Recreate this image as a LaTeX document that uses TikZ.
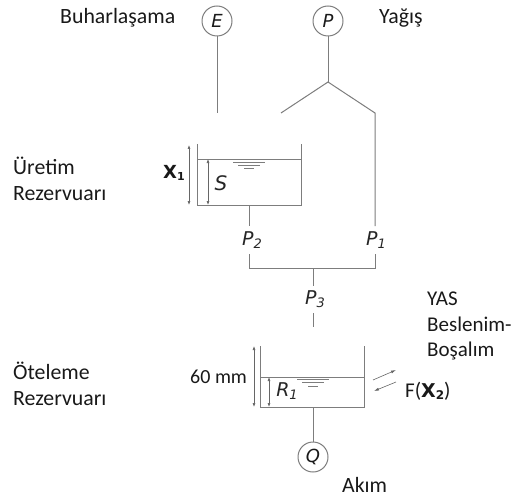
\documentclass[tikz,border=0pt]{standalone}
\usepackage{fontspec}
\setmainfont{Carlito}
\newfontfamily\symfont{DejaVu Sans}
\usetikzlibrary{arrows.meta}
\definecolor{ln}{RGB}{125,125,125}
\tikzset{
 txt/.style={font=\fontsize{21.8}{25.5}\selectfont,align=left,anchor=west,inner sep=0pt,text=black!90},
 sym/.style={font=\symfont\itshape\fontsize{19}{19}\selectfont,inner sep=0pt,text=black!85},
 circ/.style={circle,draw=ln,line width=1pt,minimum size=30pt,inner sep=0pt,font=\symfont\itshape\fontsize{18}{18}\selectfont,text=black!90},
 wire/.style={draw=ln,line width=1pt},
 dim/.style={draw=black!60,line width=.6pt,{Latex[length=4pt,width=3pt]}-{Latex[length=4pt,width=3pt]}},
 flow/.style={draw=black!60,line width=.6pt,-{Latex[length=5pt,width=3pt]}}
}
\newcommand{\subsym}[1]{\raisebox{-2.5pt}{\fontsize{13}{13}\selectfont #1}}
\begin{document}
\begin{tikzpicture}[x=1pt,y=-1pt]
\useasboundingbox (0,0) rectangle (513,497);
\node[circ] (E) at (217,21) {E};
\node[circ] (P) at (328,21) {P};
\node[circ] (Q) at (313,457) {Q};
\node[txt] (t1) at (60,18) {Buharlaşama};
\node[txt] (t2) at (379,18) {Yağış};
\node[txt] (t3) at (13,179) {Üretim\\Rezervuarı};
\node[txt] (t4) at (13,384) {Öteleme\\Rezervuarı};
\node[txt,font=\fontsize{21}{25.5}\selectfont] (t5) at (427,326) {YAS\\Beslenim-\\Boşalım};
\node[txt] (t6) at (342,485) {Akım};
\node[txt,font=\fontsize{20}{24}\selectfont] (t7) at (190,377) {60 mm};
\node[txt,font=\fontsize{21}{24}\selectfont] (t8) at (405,391) {F({\symfont\bfseries\fontsize{19}{19}\selectfont X\raisebox{-2pt}{\fontsize{12}{12}\selectfont 2}})};
\node[inner sep=0pt,font=\symfont\bfseries\fontsize{18}{18}\selectfont,text=black!90] (x1) at (174,173) {X\raisebox{-2pt}{\fontsize{11}{11}\selectfont 1}};
\node[sym,font=\symfont\itshape\fontsize{20}{20}\selectfont] (S) at (221,183) {S};
\node[sym] (P2) at (252,240) {P\subsym{2}};
\node[sym] (P1) at (376,240) {P\subsym{1}};
\node[sym] (P3) at (315,299) {P\subsym{3}};
\node[sym] (R1) at (287,391) {R\subsym{1}};
% named points
\coordinate (Eb) at (217,113);
\coordinate (fork) at (328,82);
\coordinate (fl) at (281,113);
\coordinate (fr) at (375,113);
\coordinate (p1t) at (375,226);
\coordinate (p1b) at (375,254);
\coordinate (jr) at (375,268);
\coordinate (jl) at (249,268);
\coordinate (p2t) at (249,226);
\coordinate (p2b) at (249,254);
\coordinate (us) at (249,205);
\coordinate (jm) at (313,268);
\coordinate (p3t) at (313,286);
\coordinate (p3b) at (313,313);
\coordinate (p3e) at (313,327);
\coordinate (ls) at (313,407);
% connectors
\draw[wire] (E) -- (Eb);
\draw[wire] (P) -- (fork);
\draw[wire] (fl) -- (fork) -- (fr) -- (p1t);
\draw[wire] (p1b) -- (jr) -- (jl) -- (p2b);
\draw[wire] (us) -- (p2t);
\draw[wire] (jm) -- (p3t);
\draw[wire] (p3b) -- (p3e);
\draw[wire] (ls) -- (Q);
% upper tank
\draw[wire] (197,144) -- (197,205) -- (301,205) -- (301,144);
\draw[wire] (197,159) -- (301,159);
\draw[wire] (233,162) -- (265,162);
\draw[wire] (238,165) -- (260,165);
\draw[wire] (244,168.5) -- (254,168.5);
\draw[dim] (189,145) -- (189,205);
\draw[dim] (208,159) -- (208,205);
% lower tank
\draw[wire] (260,346) -- (260,407) -- (364,407) -- (364,346);
\draw[wire] (260,377) -- (364,377);
\draw[wire] (297,379) -- (329,379);
\draw[wire] (302,382.5) -- (324,382.5);
\draw[wire] (308,386) -- (318,386);
\draw[dim] (254,346) -- (254,407);
\draw[dim] (269,377) -- (269,407);
\draw[flow] (373,380) -- (396,370);
\draw[flow] (396,382) -- (374,391);
\end{tikzpicture}
\end{document}
